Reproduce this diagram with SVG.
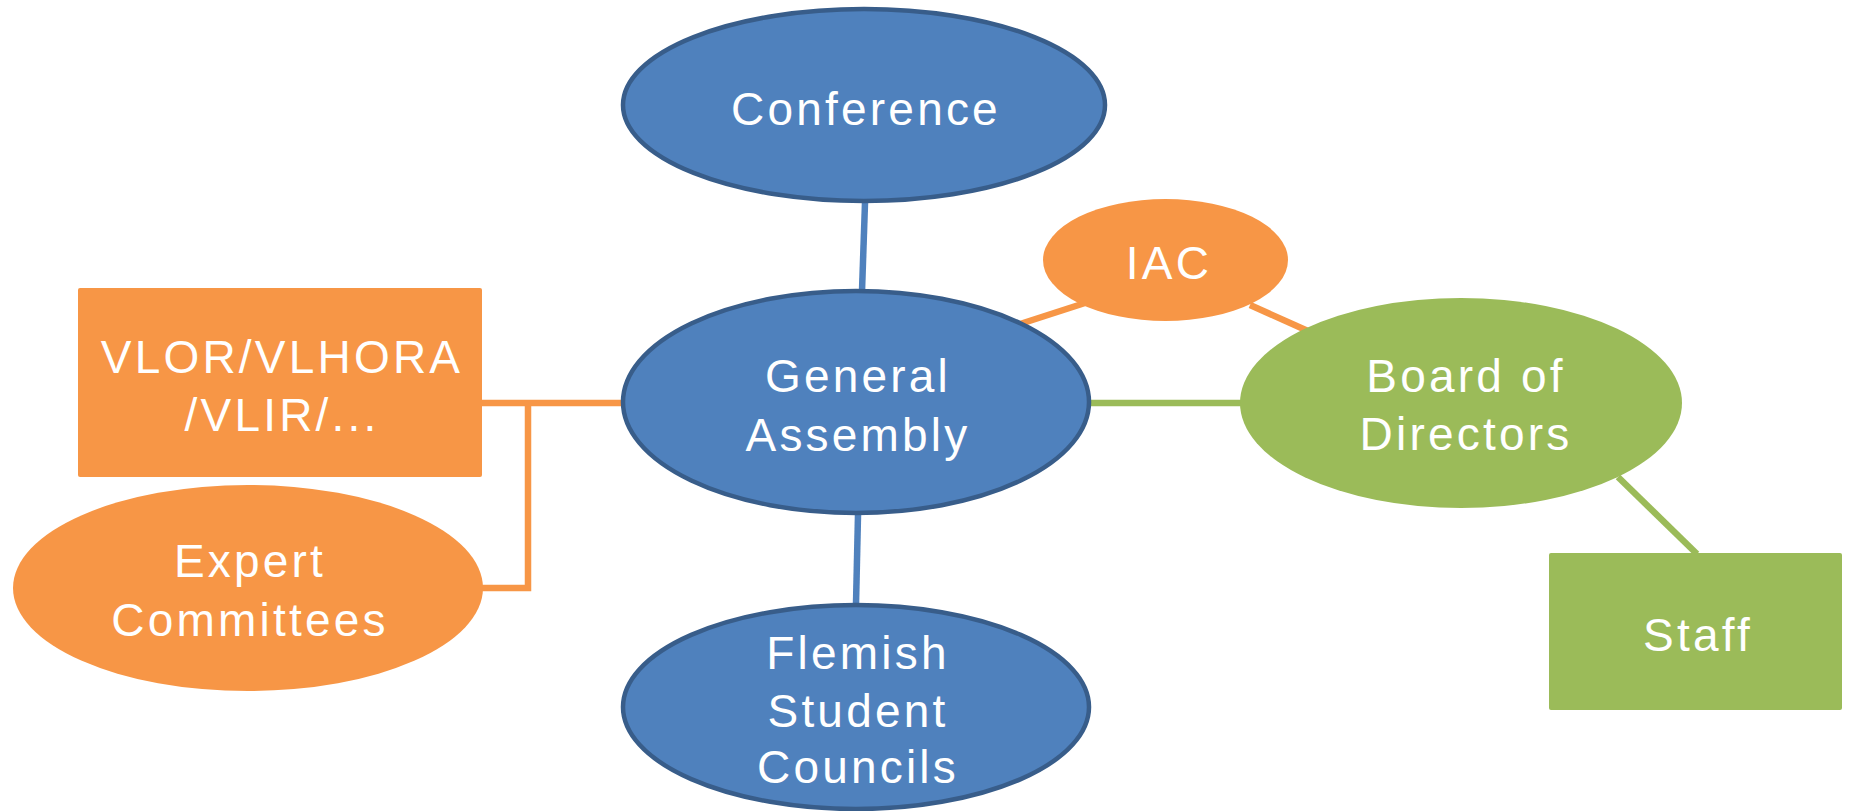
<svg xmlns="http://www.w3.org/2000/svg" width="1851" height="811" viewBox="0 0 1851 811">
<style>
.blue{fill:#4F81BD;stroke:#385D8A;stroke-width:4.5}
.orange{fill:#F79646}
.green{fill:#9BBB59}
.t{font-family:"Liberation Sans",Arial,sans-serif;font-size:46px;fill:#fff;text-anchor:middle;letter-spacing:3.2px}
.lb{stroke:#4F81BD;stroke-width:6.5;fill:none}
.lo{stroke:#F79646;stroke-width:6.5;fill:none}
.lg{stroke:#9BBB59;stroke-width:6.5;fill:none}
</style>
<rect width="1851" height="811" fill="#fff"/>
<g id="connectors">
<line class="lb" x1="865" y1="203" x2="862" y2="291"/>
<line class="lb" x1="858" y1="515" x2="856" y2="604"/>
<line class="lo" x1="482" y1="403" x2="623" y2="403"/>
<polyline class="lo" points="482,588 528,588 528,403"/>
<line class="lo" x1="1020" y1="324" x2="1085" y2="303"/>
<line class="lo" x1="1250" y1="305" x2="1308" y2="331"/>
<line class="lg" x1="1089" y1="403" x2="1241" y2="403"/>
<line class="lg" x1="1618" y1="477" x2="1697" y2="554"/>
</g>
<g id="conference">
<ellipse class="blue" cx="864" cy="105" rx="241" ry="96"/>
<text class="t" x="866" y="125">Conference</text>
</g>
<g id="general-assembly">
<ellipse class="blue" cx="856" cy="402" rx="233" ry="111"/>
<text class="t" x="858" y="392">General</text>
<text class="t" x="858" y="451">Assembly</text>
</g>
<g id="flemish-student-councils">
<ellipse class="blue" cx="856" cy="707" rx="233" ry="102"/>
<text class="t" x="858" y="669">Flemish</text>
<text class="t" x="858" y="727">Student</text>
<text class="t" x="858" y="783">Councils</text>
</g>
<g id="vlor">
<rect class="orange" x="78" y="288" width="404" height="189" rx="2"/>
<text class="t" x="282" y="373">VLOR/VLHORA</text>
<text class="t" x="282" y="431">/VLIR/...</text>
</g>
<g id="expert-committees">
<ellipse class="orange" cx="248" cy="588" rx="235" ry="103"/>
<text class="t" x="250" y="577">Expert</text>
<text class="t" x="250" y="636">Committees</text>
</g>
<g id="iac">
<ellipse class="orange" cx="1165.5" cy="260" rx="122.5" ry="61"/>
<text class="t" x="1169" y="279">IAC</text>
</g>
<g id="board-of-directors">
<ellipse class="green" cx="1461" cy="403" rx="221" ry="105"/>
<text class="t" x="1466" y="392">Board of</text>
<text class="t" x="1466" y="450">Directors</text>
</g>
<g id="staff">
<rect class="green" x="1549" y="553" width="293" height="157" rx="2"/>
<text class="t" x="1698" y="651">Staff</text>
</g>
</svg>
